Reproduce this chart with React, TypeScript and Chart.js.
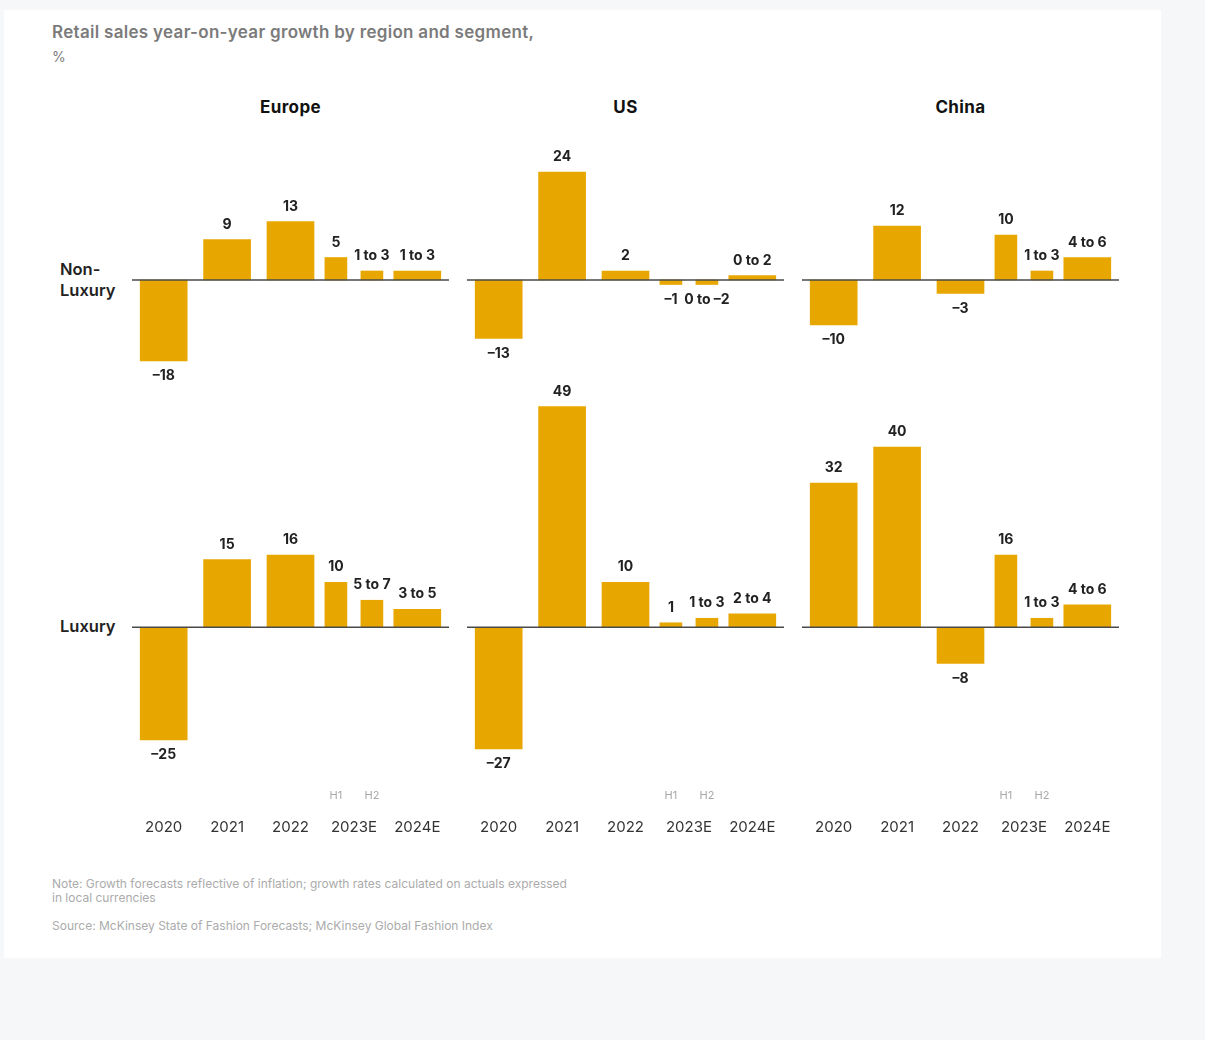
import React, { useEffect, useRef } from 'react';
import { Chart, registerables } from 'chart.js';

Chart.register(...registerables);

// ---------- data ----------
const categories = ['2020', '2021', '2022', '2023E', '2024E'];
const halfYearLabels = ['H1', 'H2'];
const regions = ['Europe', 'US', 'China'];
const segments = ['Non-\nLuxury', 'Luxury'];

// order: 2020, 2021, 2022, 2023E H1, 2023E H2, 2024E
const europeNonLuxury = [-18, 9, 13, 5, 2, 2];
const europeNonLuxuryText = ['–18', '9', '13', '5', '1 to 3', '1 to 3'];
const usNonLuxury = [-13, 24, 2, -1, -1, 1];
const usNonLuxuryText = ['–13', '24', '2', '–1', '0 to –2', '0 to 2'];
const chinaNonLuxury = [-10, 12, -3, 10, 2, 5];
const chinaNonLuxuryText = ['–10', '12', '–3', '10', '1 to 3', '4 to 6'];

const europeLuxury = [-25, 15, 16, 10, 6, 4];
const europeLuxuryText = ['–25', '15', '16', '10', '5 to 7', '3 to 5'];
const usLuxury = [-27, 49, 10, 1, 2, 3];
const usLuxuryText = ['–27', '49', '10', '1', '1 to 3', '2 to 4'];
const chinaLuxury = [32, 40, -8, 16, 2, 5];
const chinaLuxuryText = ['32', '40', '–8', '16', '1 to 3', '4 to 6'];

const titleText = 'Retail sales year-on-year growth by region and segment,';
const unitText = '%';
const noteLines = [
  'Note: Growth forecasts reflective of inflation; growth rates calculated on actuals expressed',
  'in local currencies',
];
const sourceText = 'Source: McKinsey State of Fashion Forecasts; McKinsey Global Fashion Index';

// ---------- style / layout ----------
const GOLD = '#E8A700';
const FONT = 'Inter, "Noto Sans", "DejaVu Sans", sans-serif';
const panelLefts = [132, 467, 802];
const panelWidth = 317;
const rowLayout = [
  { top: 130, height: 270, padTop: 15, padBottom: 12, min: -24, max: 30 },
  { top: 385, height: 459, padTop: 17, padBottom: 2, min: -41, max: 50 },
];
const rowLabelTops = [259, 616];

Chart.defaults.font.family = FONT;

const zeroLinePlugin = {
  id: 'zeroLine',
  afterDatasetsDraw(chart: any) {
    const { ctx, chartArea, scales } = chart;
    const y = scales.y.getPixelForValue(0);
    ctx.save();
    ctx.strokeStyle = '#4a4a4a';
    ctx.lineWidth = 1.5;
    ctx.beginPath();
    ctx.moveTo(chartArea.left, y);
    ctx.lineTo(chartArea.right, y);
    ctx.stroke();
    ctx.restore();
  },
};

const valueLabelPlugin = {
  id: 'valueLabels',
  afterDatasetsDraw(chart: any) {
    const { ctx } = chart;
    ctx.save();
    ctx.font = `bold 14px ${FONT}`;
    ctx.fillStyle = '#222';
    ctx.textAlign = 'center';
    ctx.textBaseline = 'middle';
    chart.data.datasets.forEach((ds: any, di: number) => {
      const meta = chart.getDatasetMeta(di);
      meta.data.forEach((el: any, i: number) => {
        const v = ds.data[i];
        if (v === null || v === undefined) return;
        const t = ds.valueText[i];
        const y = v >= 0 ? el.y - 15 : el.y + 15;
        ctx.fillText(t, el.x, y);
      });
    });
    ctx.restore();
  },
};

const halfLabelPlugin = {
  id: 'halfLabels',
  afterDraw(chart: any, _args: any, opts: any) {
    if (!opts || !opts.show) return;
    const { ctx, chartArea } = chart;
    ctx.save();
    ctx.font = `11px ${FONT}`;
    ctx.fillStyle = '#a8a8a8';
    ctx.textAlign = 'center';
    ctx.textBaseline = 'middle';
    chart.data.datasets.forEach((ds: any, di: number) => {
      if (!ds.halfLabel) return;
      const meta = chart.getDatasetMeta(di);
      meta.data.forEach((el: any, i: number) => {
        const v = ds.data[i];
        if (v === null || v === undefined) return;
        ctx.fillText(ds.halfLabel, el.x, chartArea.bottom - 16);
      });
    });
    ctx.restore();
  },
};

function buildChart(canvas: HTMLCanvasElement, values: number[], texts: string[], row: number) {
  const bottomRow = row === 1;
  const L = rowLayout[row];
  const annual = [values[0], values[1], values[2], null, values[5]];
  const annualText = [texts[0], texts[1], texts[2], null, texts[5]];
  const h1 = [null, null, null, values[3], null];
  const h1Text = [null, null, null, texts[3], null];
  const h2 = [null, null, null, values[4], null];
  const h2Text = [null, null, null, texts[4], null];
  return new Chart(canvas, {
    type: 'bar',
    data: {
      labels: categories,
      datasets: [
        { data: annual, valueText: annualText, grouped: false, barThickness: 47, backgroundColor: GOLD } as any,
        { data: h1, valueText: h1Text, halfLabel: halfYearLabels[0], barThickness: 36, maxBarThickness: 22, skipNull: true, backgroundColor: GOLD } as any,
        { data: h2, valueText: h2Text, halfLabel: halfYearLabels[1], barThickness: 36, maxBarThickness: 22, skipNull: true, backgroundColor: GOLD } as any,
      ],
    },
    options: {
      animation: false,
      responsive: false,
      maintainAspectRatio: false,
      events: [],
      layout: { padding: { top: L.padTop, bottom: L.padBottom, left: 0, right: 0 } },
      plugins: {
        legend: { display: false },
        tooltip: { enabled: false },
        halfLabels: { show: bottomRow },
      } as any,
      scales: {
        x: {
          type: 'category',
          display: bottomRow,
          offset: true,
          grid: { display: false, drawTicks: false },
          border: { display: false },
          ticks: {
            display: bottomRow,
            padding: 6,
            color: '#333',
            font: { size: 15 },
            maxRotation: 0,
            minRotation: 0,
            autoSkip: false,
          },
        },
        y: { display: false, min: L.min, max: L.max },
      },
    } as any,
    plugins: [zeroLinePlugin, valueLabelPlugin, halfLabelPlugin],
  });
}

const panelData = [
  [
    { values: europeNonLuxury, texts: europeNonLuxuryText },
    { values: usNonLuxury, texts: usNonLuxuryText },
    { values: chinaNonLuxury, texts: chinaNonLuxuryText },
  ],
  [
    { values: europeLuxury, texts: europeLuxuryText },
    { values: usLuxury, texts: usLuxuryText },
    { values: chinaLuxury, texts: chinaLuxuryText },
  ],
];

export default function App() {
  const refs = useRef<(HTMLCanvasElement | null)[]>([]);

  useEffect(() => {
    const charts: Chart[] = [];
    panelData.forEach((rowPanels, r) => {
      rowPanels.forEach((p, c) => {
        const cv = refs.current[r * 3 + c];
        if (cv) charts.push(buildChart(cv, p.values, p.texts, r));
      });
    });
    return () => charts.forEach((ch) => ch.destroy());
  }, []);

  return (
    <div style={{ position: 'absolute', left: 0, top: 0, width: 1205, height: 1040, background: '#f6f7f9', fontFamily: FONT, overflow: 'hidden' }}>
      <div style={{ position: 'absolute', left: 4, top: 10, width: 1157, height: 948, background: '#fff' }} />
      <div style={{ position: 'absolute', left: 52, top: 20, fontSize: 17, lineHeight: '24px', fontWeight: 600, color: '#7b7b7b', letterSpacing: 0.3, whiteSpace: 'nowrap' }}>
        {titleText}
        <br />
        <span style={{ fontWeight: 400, fontSize: 14 }}>{unitText}</span>
      </div>
      {regions.map((name, c) => (
        <div key={name} style={{ position: 'absolute', left: panelLefts[c], width: panelWidth, top: 97, lineHeight: '20px', textAlign: 'center', fontSize: 17, fontWeight: 700, color: '#111', letterSpacing: 0.4 }}>
          {name}
        </div>
      ))}
      {segments.map((s, r) => (
        <div key={s} style={{ position: 'absolute', left: 60, top: rowLabelTops[r], fontSize: 16.5, lineHeight: '21px', fontWeight: 600, color: '#222', whiteSpace: 'pre' }}>
          {s}
        </div>
      ))}
      {rowLayout.map((L, r) =>
        panelLefts.map((left, c) => (
          <canvas
            key={`${r}-${c}`}
            ref={(el) => { refs.current[r * 3 + c] = el; }}
            width={panelWidth}
            height={L.height}
            style={{ position: 'absolute', left, top: L.top, width: panelWidth, height: L.height }}
          />
        ))
      )}
      <div style={{ position: 'absolute', left: 52, top: 877, fontSize: 12, lineHeight: '14px', color: '#ababab', whiteSpace: 'nowrap' }}>
        {noteLines[0]}
        <br />
        {noteLines[1]}
      </div>
      <div style={{ position: 'absolute', left: 52, top: 919, fontSize: 12, lineHeight: '14px', color: '#ababab', whiteSpace: 'nowrap' }}>
        {sourceText}
      </div>
    </div>
  );
}
